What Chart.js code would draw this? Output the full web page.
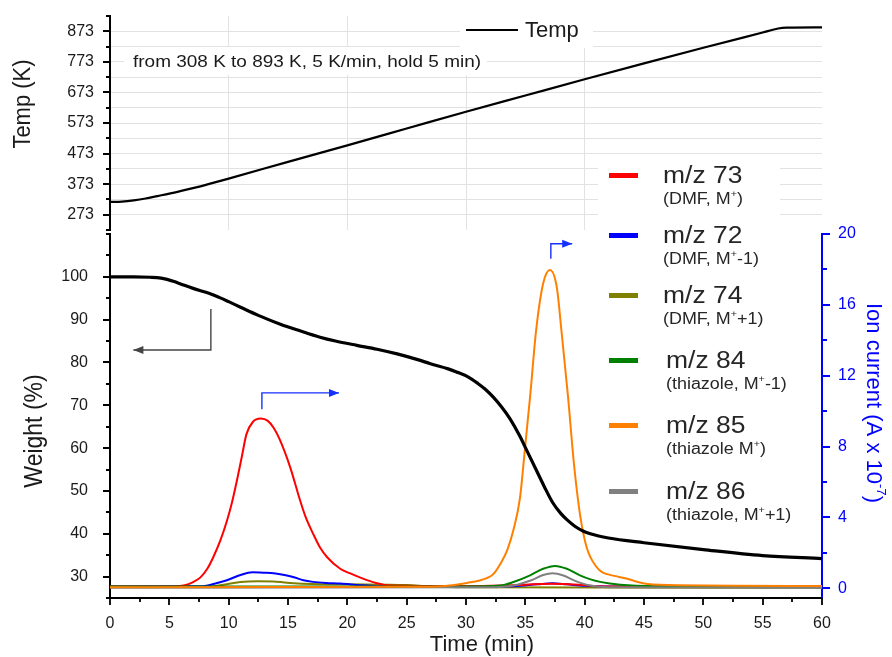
<!DOCTYPE html>
<html><head><meta charset="utf-8">
<script src="https://cdn.jsdelivr.net/npm/chart.js@4.4.0/dist/chart.umd.min.js"></script>
<style>
html,body{margin:0;padding:0;background:#fff;}
#wrap{position:relative;width:892px;height:657px;overflow:hidden;}
canvas{position:absolute;left:0;top:0;}
</style></head><body>
<div id="wrap"><canvas id="topc" width="892" height="657"></canvas><canvas id="botc" width="892" height="657"></canvas></div>
<script>
// ---------------- DATA ----------------
const tempTime = [0, 1, 2, 3, 4, 5, 6, 8, 10, 15, 20, 25, 30, 35, 40, 45, 50, 55, 56.3, 57, 60];
const tempK    = [315, 316, 320, 326, 334, 342, 351, 370, 391, 446, 500, 555, 610, 663, 716, 768, 819, 869, 882, 885, 886];

const weightTime = [0, 2, 3.4, 4.3, 4.8, 5.4, 5.9, 7.0, 8.4, 9.2, 10.0, 11.0, 12.5, 14.3, 16.0, 17.7, 19.0, 20.8, 22.5, 24.2, 26.0, 27.0, 28.5, 29.2, 30.2, 31.0, 31.6, 32.3, 33.0, 33.7, 34.5, 35.2, 35.9, 36.6, 37.3, 38.0, 38.5, 39.2, 39.9, 41.0, 42.0, 45, 50, 55, 60];
const weightPct  = [100, 100, 99.9, 99.7, 99.4, 98.9, 98.4, 97.3, 96.1, 95.2, 94.2, 92.9, 91.0, 89.0, 87.4, 85.9, 85.0, 84.0, 83.1, 82.0, 80.6, 79.7, 78.5, 77.8, 76.6, 75.1, 73.8, 71.9, 69.6, 66.9, 63.0, 59.0, 55.0, 51.0, 47.3, 44.7, 43.3, 41.7, 40.6, 39.6, 39.0, 37.9, 36.3, 34.9, 34.2];

const mz73Time = [0, 5, 6.3, 7.0, 7.6, 8.2, 8.7, 9.3, 9.85, 10.3, 10.7, 11.1, 11.5, 12.05, 12.7, 13.3, 13.8, 14.3, 15.2, 16.0, 16.5, 17.1, 17.7, 18.3, 19.4, 20.2, 21.1, 22.5, 23.5, 30, 33, 35, 37, 39.5, 41, 45, 60];
const mz73     = [0.1, 0.1, 0.17, 0.35, 0.6, 1.1, 1.75, 2.7, 3.8, 4.9, 6.1, 7.4, 8.7, 9.4, 9.58, 9.45, 9.05, 8.4, 6.8, 5.0, 4.0, 3.1, 2.3, 1.75, 1.1, 0.85, 0.6, 0.28, 0.15, 0.12, 0.15, 0.2, 0.25, 0.2, 0.12, 0.1, 0.08];

const mz72Time = [0, 7.8, 8.8, 9.85, 11, 12, 13, 13.8, 14.7, 15.5, 16.3, 17.1, 18.2, 19.4, 21.1, 22.5, 30, 34, 36, 37.3, 38.5, 40, 42, 60];
const mz72     = [0.1, 0.12, 0.25, 0.45, 0.75, 0.9, 0.88, 0.85, 0.75, 0.62, 0.45, 0.36, 0.3, 0.27, 0.17, 0.12, 0.1, 0.12, 0.22, 0.28, 0.22, 0.14, 0.1, 0.08];

const mz74Time = [0, 8.5, 9.85, 11, 12.5, 13.8, 15.5, 17, 20, 25, 27, 30, 60];
const mz74     = [0.08, 0.1, 0.23, 0.36, 0.4, 0.38, 0.28, 0.24, 0.22, 0.18, 0.1, 0.06, 0.03];

const mz84Time = [0, 30, 32.9, 34, 35.4, 36.5, 37.5, 38.5, 39.6, 40.5, 41.3, 43, 46, 60];
const mz84     = [0.1, 0.1, 0.15, 0.35, 0.73, 1.1, 1.26, 1.1, 0.73, 0.5, 0.36, 0.2, 0.12, 0.1];

const mz85Time = [0, 25, 28, 30.1, 31.7, 32.3, 33.0, 33.5, 34.0, 34.55, 34.97, 35.4, 35.9, 36.5, 37.07, 37.65, 38.05, 38.6, 39.1, 39.6, 40.17, 41.0, 41.5, 42.5, 43.5, 44.9, 47, 60];
const mz85     = [0.05, 0.08, 0.12, 0.3, 0.56, 0.8, 1.5, 2.2, 3.3, 5.1, 7.9, 10.8, 14.5, 17.2, 17.97, 17.0, 14.5, 10.8, 7.0, 4.2, 2.3, 1.2, 0.9, 0.7, 0.55, 0.28, 0.18, 0.13];

const mz86Time = [0, 32, 34, 35.5, 36.5, 37.3, 38.2, 39.2, 40.5, 42, 60];
const mz86     = [0.03, 0.05, 0.15, 0.45, 0.75, 0.85, 0.72, 0.42, 0.15, 0.06, 0.03];

// tick values
const timeMajorTicks = [0, 5, 10, 15, 20, 25, 30, 35, 40, 45, 50, 55, 60];
const timeMinorTicks = [2.5, 7.5, 12.5, 17.5, 22.5, 27.5, 32.5, 37.5, 42.5, 47.5, 52.5, 57.5];
const timeGridLines  = [10, 20, 30, 40];
const tempMajorTicks = [273, 373, 473, 573, 673, 773, 873];
const tempMinorTicks = [223, 323, 423, 523, 623, 723, 823, 923];
const tempGridLines  = [273, 323, 373, 423, 473, 523, 573, 623, 673, 723, 773, 823, 873];
const weightMajorTicks = [30, 40, 50, 60, 70, 80, 90, 100];
const weightMinorTicks = [25, 35, 45, 55, 65, 75, 85, 95, 105, 110];
const ionMajorTicks = [0, 4, 8, 12, 16, 20];
const ionMinorTicks = [2, 6, 10, 14, 18];

// legend text
const seriesLabels = ['m/z 73', 'm/z 72', 'm/z 74', 'm/z 84', 'm/z 85', 'm/z 86'];
const seriesNotes  = ['(DMF, M^{+})', '(DMF, M^{+}-1)', '(DMF, M^{+}+1)', '(thiazole, M^{+}-1)', '(thiazole M^{+})', '(thiazole, M^{+}+1)'];
const seriesColors = ['#FF0000', '#0000FF', '#808000', '#008000', '#FF8000', '#808080'];

// ---------------- HELPERS ----------------
const FONT = "'Liberation Sans', Arial, Helvetica, sans-serif";
Chart.defaults.font.family = FONT;
const pts = (xs, ys) => xs.map((x, i) => ({x: x, y: ys[i]}));

function drawText(ctx, str, x, y, o) {
  ctx.save();
  ctx.translate(x, y);
  ctx.scale(o.sx || 1, 1);
  if (o.rot) ctx.rotate(o.rot);
  ctx.font = (o.size) + 'px ' + FONT;
  ctx.fillStyle = o.color || '#222';
  ctx.textAlign = o.align || 'left';
  ctx.textBaseline = o.baseline || 'alphabetic';
  ctx.fillText(str, 0, 0);
  ctx.restore();
}
function drawRich(ctx, str, x, y, o) {
  const parts = str.split(/(\^\{[^}]*\})/).filter(s => s).map(s => s.startsWith('^{') ? {t: s.slice(2, -1), sup: true} : {t: s, sup: false});
  ctx.save();
  ctx.translate(x, y);
  ctx.scale(o.sx || 1, 1);
  if (o.rot) ctx.rotate(o.rot);
  const supSize = o.size * 0.6;
  let total = 0;
  parts.forEach(p => { ctx.font = (p.sup ? supSize : o.size) + 'px ' + FONT; p.w = ctx.measureText(p.t).width; total += p.w; });
  let cx = o.align === 'center' ? -total / 2 : 0;
  const by = o.dy || 0;
  ctx.fillStyle = o.color || '#222';
  ctx.textBaseline = 'alphabetic';
  ctx.textAlign = 'left';
  parts.forEach(p => {
    ctx.font = (p.sup ? supSize : o.size) + 'px ' + FONT;
    ctx.fillText(p.t, cx, by + (p.sup ? -o.size * 0.42 : 0));
    cx += p.w;
  });
  ctx.restore();
}
function tickMarks(ctx, scale, values, len, color) {
  ctx.save();
  ctx.strokeStyle = color; ctx.lineWidth = 1.8;
  ctx.beginPath();
  values.forEach(v => {
    const p = Math.round(scale.getPixelForValue(v));
    if (scale.position === 'left') { ctx.moveTo(scale.right - len, p); ctx.lineTo(scale.right, p); }
    else if (scale.position === 'right') { ctx.moveTo(scale.left, p); ctx.lineTo(scale.left + len, p); }
    else { ctx.moveTo(p, scale.top); ctx.lineTo(p, scale.top + len); }
  });
  ctx.stroke();
  ctx.restore();
}
function arrow(ctx, xs, ys, sx, sy, color) {
  const P = xs.map((x, i) => [sx.getPixelForValue(x), sy.getPixelForValue(ys[i])]);
  ctx.save();
  ctx.strokeStyle = color; ctx.fillStyle = color; ctx.lineWidth = 1.4;
  ctx.beginPath();
  ctx.moveTo(P[0][0], P[0][1]);
  for (let i = 1; i < P.length; i++) ctx.lineTo(P[i][0], P[i][1]);
  ctx.stroke();
  const a = P[P.length - 2], b = P[P.length - 1];
  const ang = Math.atan2(b[1] - a[1], b[0] - a[0]);
  const L = 10, W = 4;
  ctx.beginPath();
  ctx.moveTo(b[0], b[1]);
  ctx.lineTo(b[0] - L * Math.cos(ang) + W * Math.sin(ang), b[1] - L * Math.sin(ang) - W * Math.cos(ang));
  ctx.lineTo(b[0] - L * Math.cos(ang) - W * Math.sin(ang), b[1] - L * Math.sin(ang) + W * Math.cos(ang));
  ctx.closePath(); ctx.fill();
  ctx.restore();
}
const noPad = s => { s.paddingTop = 0; s.paddingBottom = 0; };

// ---------------- TOP CHART (Temp) ----------------
const topDecor = {
  id: 'topDecor',
  afterDraw(chart) {
    const ctx = chart.ctx;
    const y = chart.scales.y;
    tickMarks(ctx, y, tempMajorTicks, 7, '#000');
    tickMarks(ctx, y, tempMinorTicks, 4, '#000');
    ctx.save(); ctx.fillStyle = '#fff'; ctx.fillRect(124, 47, 363, 28);
    ctx.fillRect(460, 13, 133, 35); ctx.restore();
    drawText(ctx, 'from 308 K to 893 K, 5 K/min, hold 5 min)', 133, 67, {size: 16.5, sx: 1.15, color: '#1a1a1a'});
    ctx.save(); ctx.strokeStyle = '#000'; ctx.lineWidth = 2; ctx.beginPath(); ctx.moveTo(466, 30); ctx.lineTo(518, 30); ctx.stroke(); ctx.restore();
    drawText(ctx, 'Temp', 525, 37, {size: 22, color: '#1a1a1a'});
    drawText(ctx, 'Temp (K)', 23, 104, {size: 22, sx: 1.1, rot: -Math.PI / 2, align: 'center', baseline: 'middle', color: '#1a1a1a'});
  }
};

new Chart(document.getElementById('topc'), {
  type: 'line',
  data: {datasets: [{label: 'Temp', data: pts(tempTime, tempK), borderColor: '#000', borderWidth: 2.2, pointRadius: 0, cubicInterpolationMode: 'monotone', fill: false}]},
  options: {
    responsive: false, animation: false, devicePixelRatio: 1,
    layout: {padding: {top: 16, left: 0, right: 70, bottom: 427}},
    plugins: {legend: {display: false}, tooltip: {enabled: false}},
    scales: {
      x: {type: 'linear', min: 0, max: 60,
          afterBuildTicks: s => { s.ticks = timeGridLines.map(v => ({value: v})); },
          ticks: {display: false, autoSkip: false},
          grid: {color: '#e2e2e2', lineWidth: 1, drawTicks: false},
          border: {display: false},
          afterFit: s => { s.height = 0; s.paddingLeft = 0; s.paddingRight = 0; }},
      y: {type: 'linear', min: 223, max: 923,
          afterBuildTicks: s => { s.ticks = tempGridLines.map(v => ({value: v})); },
          ticks: {autoSkip: false, padding: 16, color: '#1a1a1a', font: {size: 16},
                  callback: v => tempMajorTicks.includes(v) ? String(v) : ''},
          grid: {color: '#e2e2e2', lineWidth: 1, drawTicks: false},
          border: {display: true, color: '#000', width: 2},
          afterFit: s => { s.width = 110; noPad(s); }}
    }
  },
  plugins: [topDecor]
});

// ---------------- BOTTOM CHART (Weight + MS) ----------------
const botDecor = {
  id: 'botDecor',
  afterDraw(chart) {
    const ctx = chart.ctx;
    const {x, y, y1} = chart.scales;
    tickMarks(ctx, x, timeMajorTicks, 7, '#000');
    tickMarks(ctx, x, timeMinorTicks, 4, '#000');
    tickMarks(ctx, y, weightMajorTicks, 7, '#000');
    tickMarks(ctx, y, weightMinorTicks, 4, '#000');
    tickMarks(ctx, y1, ionMajorTicks, 8, '#0000FF');
    tickMarks(ctx, y1, ionMinorTicks, 5, '#0000FF');
    arrow(ctx, [8.5, 8.5, 1.97], [92.5, 82.9, 82.9], x, y, '#444');
    arrow(ctx, [12.8, 12.8, 19.3], [10.1, 11.03, 11.03], x, y1, '#1530FF');
    arrow(ctx, [37.15, 37.15, 38.95], [18.6, 19.45, 19.45], x, y1, '#1530FF');
    ctx.save(); ctx.fillStyle = '#fff'; ctx.fillRect(598, 155, 182, 375); ctx.restore();
    const baselines = [183, 243, 303, 368, 433, 499];
    const textX = [663, 663, 663, 666, 666, 666];
    seriesLabels.forEach((lab, i) => {
      ctx.save(); ctx.strokeStyle = seriesColors[i]; ctx.lineWidth = 5;
      ctx.beginPath(); ctx.moveTo(609, baselines[i] - 7.5); ctx.lineTo(638, baselines[i] - 7.5); ctx.stroke(); ctx.restore();
      drawText(ctx, lab, textX[i], baselines[i], {size: 23, sx: 1.15, color: '#262626'});
      drawRich(ctx, seriesNotes[i], textX[i], baselines[i] + 21, {size: 16, sx: 1.12, color: '#262626'});
    });
    drawText(ctx, 'Weight (%)', 35, 431, {size: 23, sx: 1.1, rot: -Math.PI / 2, align: 'center', baseline: 'middle', color: '#1a1a1a'});
    drawText(ctx, 'Time (min)', 482, 645, {size: 22, align: 'center', baseline: 'middle', color: '#1a1a1a'});
    drawRich(ctx, 'Ion current (A x 10^{-7})', 875, 403, {size: 22, rot: Math.PI / 2, align: 'center', dy: 7.7, color: '#0000FF'});
  }
};

const ionDs = (label, xs, ys, color, order) => ({label, data: pts(xs, ys), borderColor: color, borderWidth: 2, pointRadius: 0, cubicInterpolationMode: 'monotone', fill: false, yAxisID: 'y1', order});

new Chart(document.getElementById('botc'), {
  type: 'line',
  data: {datasets: [
    {label: 'Weight', data: pts(weightTime, weightPct), borderColor: '#000', borderWidth: 3.2, pointRadius: 0, cubicInterpolationMode: 'monotone', fill: false, yAxisID: 'y', order: 0},
    ionDs('m/z 73', mz73Time, mz73, seriesColors[0], 5),
    ionDs('m/z 72', mz72Time, mz72, seriesColors[1], 6),
    ionDs('m/z 74', mz74Time, mz74, seriesColors[2], 7),
    ionDs('m/z 84', mz84Time, mz84, seriesColors[3], 3),
    ionDs('m/z 85', mz85Time, mz85, seriesColors[4], 1),
    ionDs('m/z 86', mz86Time, mz86, seriesColors[5], 2)
  ]},
  options: {
    responsive: false, animation: false, devicePixelRatio: 1,
    layout: {padding: {top: 234, left: 0, right: 0, bottom: 0}},
    plugins: {legend: {display: false}, tooltip: {enabled: false}},
    scales: {
      x: {type: 'linear', min: 0, max: 60,
          afterBuildTicks: s => { s.ticks = timeMajorTicks.map(v => ({value: v})); },
          ticks: {autoSkip: false, maxRotation: 0, padding: 16, color: '#1a1a1a', font: {size: 16}, callback: v => String(v)},
          grid: {display: false, drawTicks: false},
          border: {display: true, color: '#000', width: 2},
          afterFit: s => { s.height = 59; s.paddingLeft = 0; s.paddingRight = 0; }},
      y: {type: 'linear', position: 'left', min: 25, max: 110,
          afterBuildTicks: s => { s.ticks = weightMajorTicks.map(v => ({value: v})); },
          ticks: {autoSkip: false, padding: 22, color: '#1a1a1a', font: {size: 16}, callback: v => String(v)},
          grid: {display: false, drawTicks: false},
          border: {display: true, color: '#000', width: 2},
          afterFit: s => { s.width = 110; noPad(s); }},
      y1: {type: 'linear', position: 'right', min: -0.55, max: 20,
          afterBuildTicks: s => { s.ticks = ionMajorTicks.map(v => ({value: v})); },
          ticks: {autoSkip: false, padding: 16, color: '#0000FF', font: {size: 16}, callback: v => String(v)},
          grid: {display: false, drawTicks: false},
          border: {display: true, color: '#0000FF', width: 2},
          afterFit: s => { s.width = 70; noPad(s); }}
    }
  },
  plugins: [botDecor]
});
</script>
</body></html>
